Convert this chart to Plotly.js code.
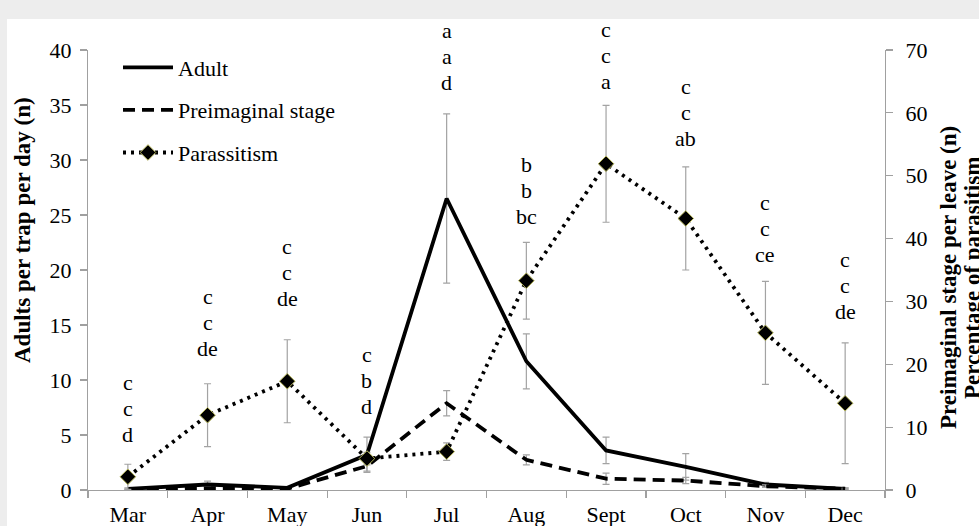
<!DOCTYPE html>
<html>
<head>
<meta charset="utf-8">
<script src="https://cdn.plot.ly/plotly-3.0.1.min.js"></script>
<style>
  html, body { margin: 0; padding: 0; background: #ededed; width: 979px; height: 526px; overflow: hidden; }
  #chart { position: absolute; left: 0; top: 0; width: 979px; height: 526px; }
</style>
</head>
<body>
<div id="chart"></div>
<script>
// ---- data ----
const months = ['Mar', 'Apr', 'May', 'Jun', 'Jul', 'Aug', 'Sept', 'Oct', 'Nov', 'Dec'];

const adult    = [0.1, 0.5, 0.2, 3.2, 26.5, 11.7, 3.6, 2.1, 0.5, 0.1];
const adultErr = [0.1, 0.3, 0.1, 1.6, 7.7, 2.5, 1.2, 1.2, 0.2, 0.1];

const preimaginal    = [0.1, 0.3, 0.2, 3.8, 13.8, 4.8, 1.8, 1.5, 0.6, 0.2];
const preimaginalErr = [0.1, 0.2, 0.1, 0.8, 2.0, 0.8, 0.9, 0.5, 0.2, 0.1];

const parasitism    = [2.1, 11.9, 17.3, 5.0, 6.1, 33.3, 51.9, 43.2, 25.0, 13.8];
const parasitismErr = [2.0, 5.0, 6.6, 1.0, 1.4, 6.1, 9.3, 8.2, 8.2, 9.6];

// significance letters per month (adult / preimaginal / parasitism)
const letters = [
  ['c', 'c', 'd'], ['c', 'c', 'de'], ['c', 'c', 'de'], ['c', 'b', 'd'], ['a', 'a', 'd'],
  ['b', 'b', 'bc'], ['c', 'c', 'a'], ['c', 'c', 'ab'], ['c', 'c', 'ce'], ['c', 'c', 'de']
];
// label anchor (middle line) in left-axis units
const letterY = [7.4, 15.2, 19.8, 10.0, 39.4, 27.2, 39.5, 34.3, 23.8, 18.6];

const leftTitle = 'Adults per trap per day (n)';
const rightTitle1 = 'Preimaginal stage per leave (n)';
const rightTitle2 = 'Percentage of parasitism';

// ---- chart ----
const FONT = 'Liberation Serif';
const errStyle = { type: 'data', visible: true, color: '#a3a3a3', thickness: 1.2, width: 3.5 };

const traces = [
  {
    x: months, y: adult, name: 'Adult', yaxis: 'y', type: 'scatter', mode: 'lines',
    legendgroup: 'a',
    line: { color: '#000000', width: 3.8 },
    error_y: Object.assign({ array: adultErr }, errStyle)
  },
  {
    x: months, y: preimaginal, name: 'Preimaginal stage', yaxis: 'y2', type: 'scatter', mode: 'lines',
    legendgroup: 'b',
    line: { color: '#000000', width: 3.8, dash: '12px,7px' },
    error_y: Object.assign({ array: preimaginalErr }, errStyle)
  },
  {
    x: months, y: parasitism, name: 'Parassitism', yaxis: 'y2', type: 'scatter', mode: 'lines+markers',
    legendgroup: 'c',
    line: { color: '#000000', width: 3.8, dash: '3px,5px' },
    marker: { symbol: 'diamond', size: 12, color: '#000000', line: { color: '#b5b55a', width: 1 } },
    error_y: Object.assign({ array: parasitismErr }, errStyle)
  }
];

// plot area geometry (pixels)
const W = 979, H = 526;
const M = { l: 88, r: 94, t: 50, b: 36 };
const PW = W - M.l - M.r, PH = H - M.t - M.b;
const px = v => (v - M.l) / PW;          // page x -> paper x
const py = v => (H - M.b - v) / PH;      // page y -> paper y

const annotations = [];
const lineGap = 26;
months.forEach((m, i) => {
  letters[i].forEach((t, k) => {
    annotations.push({
      xref: 'x', yref: 'y', x: m, y: letterY[i], yshift: (1 - k) * lineGap,
      text: t, showarrow: false, xanchor: 'center', yanchor: 'middle',
      font: { family: FONT, size: 22, color: '#000000' }
    });
  });
});
annotations.push({
  xref: 'paper', yref: 'paper', x: px(22), y: py(230), text: leftTitle, textangle: -90,
  showarrow: false, xanchor: 'center', yanchor: 'middle',
  font: { family: FONT, size: 23, color: '#000000', weight: 'bold' }
});
annotations.push({
  xref: 'paper', yref: 'paper', x: px(948), y: py(278), text: rightTitle1, textangle: -90,
  showarrow: false, xanchor: 'center', yanchor: 'middle',
  font: { family: FONT, size: 23, color: '#000000', weight: 'bold' }
});
annotations.push({
  xref: 'paper', yref: 'paper', x: px(972), y: py(278), text: rightTitle2, textangle: -90,
  showarrow: false, xanchor: 'center', yanchor: 'middle',
  font: { family: FONT, size: 23, color: '#000000', weight: 'bold' }
});

const axisBase = {
  showgrid: false, zeroline: false, showline: true, linecolor: '#a0a0a0', linewidth: 1.2,
  ticks: 'outside', ticklen: 7, tickcolor: '#a0a0a0', tickwidth: 1.2,
  tickfont: { family: FONT, size: 22, color: '#000000' }
};

const layout = {
  width: W, height: H,
  margin: M,
  paper_bgcolor: '#ededed', plot_bgcolor: '#ffffff',
  font: { family: FONT, size: 22, color: '#000000' },
  showlegend: true,
  shapes: [{
    type: 'rect', xref: 'paper', yref: 'paper', layer: 'below',
    x0: px(7), x1: px(W + 2), y0: py(H + 2), y1: py(19),
    fillcolor: '#ffffff', line: { width: 0 }
  }],
  legend: {
    x: px(118), y: py(46.5), xanchor: 'left', yanchor: 'top',
    bgcolor: 'rgba(0,0,0,0)', borderwidth: 0,
    font: { family: FONT, size: 22, color: '#000000' },
    itemwidth: 50, tracegroupgap: 11
  },
  xaxis: Object.assign({}, axisBase, {
    type: 'category', tickson: 'boundaries', range: [-0.5, 9.5], ticklabelstandoff: 4
  }),
  yaxis: Object.assign({}, axisBase, { range: [0, 40], dtick: 5, ticklabelstandoff: 4 }),
  yaxis2: Object.assign({}, axisBase, {
    range: [0, 70], dtick: 10, overlaying: 'y', side: 'right', ticklabelstandoff: 8
  }),
  annotations: annotations
};

Plotly.newPlot('chart', traces, layout, { displayModeBar: false, staticPlot: true });
</script>
</body>
</html>
